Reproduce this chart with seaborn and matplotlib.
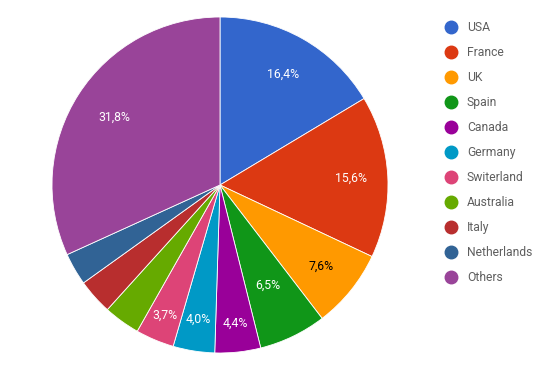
import matplotlib
matplotlib.use("Agg")
import matplotlib.pyplot as plt
from matplotlib.lines import Line2D
import seaborn as sns
import numpy as np

countries = ["USA", "France", "UK", "Spain", "Canada", "Germany", "Switerland",
             "Australia", "Italy", "Netherlands", "Others"]
shares = [16.4, 15.6, 7.6, 6.5, 4.4, 4.0, 3.7, 3.5, 3.4, 3.1, 31.8]
colors = ["#3366cc", "#dc3912", "#ff9900", "#109618", "#990099", "#0099c6",
          "#dd4477", "#66aa00", "#b82e2e", "#316395", "#994499"]
text_colors = ["white", "white", "black", "white", "white", "white", "white",
               "white", "white", "white", "white"]
label_dist = [0.76, 0.78, 0.77, 0.66, 0.83, 0.81, 0.84, 0.8, 0.8, 0.8, 0.75]
show_label = [s >= 3.6 for s in shares]

sns.set_theme(style="white")
plt.rcParams['font.family'] = ['Roboto', 'DejaVu Sans']

fig = plt.figure(figsize=(5.5, 3.71), dpi=100)
ax = fig.add_axes([52/550, 18/371, 336/550, 336/371])
wedges, _ = ax.pie(shares, colors=sns.color_palette(colors), startangle=90,
                   counterclock=False,
                   wedgeprops=dict(edgecolor="white", linewidth=0.6))
ax.set_aspect("equal")
ax.set_xlim(-1, 1)
ax.set_ylim(-1, 1)

for w, s, tc, d, show in zip(wedges, shares, text_colors, label_dist, show_label):
    if not show:
        continue
    ang = np.deg2rad((w.theta1 + w.theta2) / 2)
    ax.text(d * np.cos(ang), d * np.sin(ang), f"{s:.1f}%".replace(".", ","),
            ha="center", va="center", color=tc, fontsize=8.8)

handles = [Line2D([0], [0], marker="o", linestyle="", markersize=9,
                  markerfacecolor=c, markeredgecolor=c) for c in colors]
fig.legend(handles, countries, loc="upper left",
           bbox_to_anchor=(445/550, 1 - 21/371), frameon=False,
           fontsize=8.7, labelspacing=0.995, handlelength=1.0,
           handletextpad=0.8, borderpad=0, borderaxespad=0,
           labelcolor="#5f5f5f")

fig.savefig("out.png", dpi=100)
